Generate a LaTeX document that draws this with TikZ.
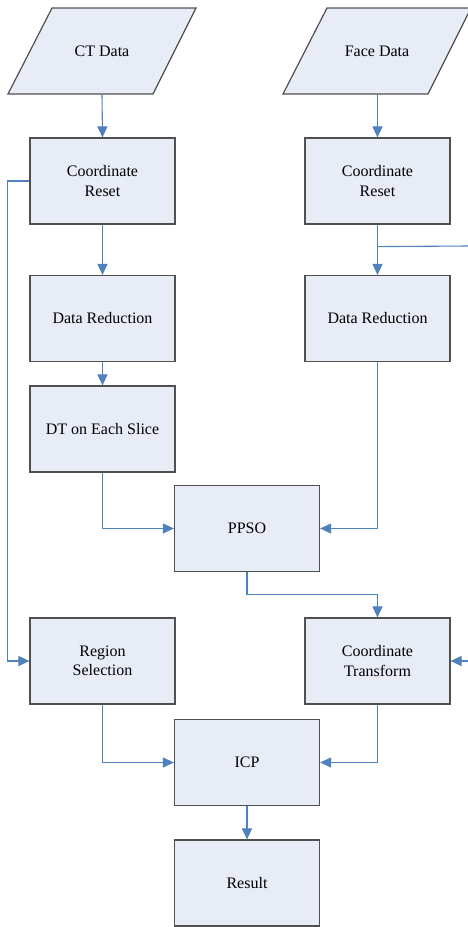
\documentclass[tikz,border=0pt]{standalone}
\usepackage{fontspec}
\setmainfont{Liberation Serif}
\usetikzlibrary{arrows.meta,calc}
\definecolor{boxfill}{RGB}{231,236,246}
\definecolor{boxline}{RGB}{80,80,80}
\definecolor{conn}{RGB}{79,129,189}
\tikzset{
  procbox/.style={draw=boxline, line width=1.2pt, fill=boxfill, minimum width=145pt, minimum height=86pt, align=center, inner sep=2pt, font=\fontsize{16}{19.5}\selectfont},
  iotext/.style={minimum width=100pt, minimum height=86pt, align=center, inner sep=0pt, font=\fontsize{16}{19.5}\selectfont},
  iobox/.style={draw=boxline, line width=1.2pt, fill=boxfill},
  flow/.style={draw=conn, line width=1.1pt, -{Triangle[length=11pt,width=10pt]}},
  plainflow/.style={draw=conn, line width=1.1pt}
}
\begin{document}
\begin{tikzpicture}[x=1pt,y=-1pt]
\useasboundingbox (0,0) rectangle (468,927);
% input parallelograms
\path[iobox] (52,8) -- (196,8) -- (153,94) -- (8,94) -- cycle;
\node[iotext] (ct) at (102,51) {CT Data};
\path[iobox] (327,8) -- (471,8) -- (428,94) -- (283,94) -- cycle;
\node[iotext] (fd) at (377,51) {Face Data};
% process boxes
\node[procbox] (cr1) at (102.5,181) {Coordinate\\Reset};
\node[procbox] (cr2) at (377.5,181) {Coordinate\\Reset};
\node[procbox] (dr1) at (102.5,318.5) {Data Reduction};
\node[procbox] (dr2) at (377.5,318.5) {Data Reduction};
\node[procbox] (dt) at (102.5,429) {DT on Each Slice};
\node[procbox] (ppso) at (247,528.5) {PPSO};
\node[procbox] (rs) at (102.5,661) {Region\\Selection};
\node[procbox] (ctr) at (377.5,661) {Coordinate\\Transform};
\node[procbox] (icp) at (247,762.5) {ICP};
\node[procbox] (res) at (247,883) {Result};
% connectors
\draw[flow] (ct.south) -- (cr1.north);
\draw[flow] (fd.south -| cr2.north) -- (cr2.north);
\draw[flow] (cr1.south) -- (dr1.north);
\draw[flow] (cr2.south) -- (dr2.north);
\draw[flow] (dr1.south) -- (dt.north);
\draw[flow] (dt.south) |- (ppso.west);
\draw[flow] (dr2.south) |- (ppso.east);
\draw[flow] (ppso.south) |- ($(ppso.south)!0.5!(ctr.north)$) -| (ctr.north);
\draw[flow] (cr1.west) -- ++(-22,0) |- (rs.west);
\draw[flow] (rs.south) |- (icp.west);
\draw[flow] (ctr.south) |- (icp.east);
\draw[flow] (icp.south) -- (res.north);
\coordinate (br) at ($(cr2.south)+(0,22)$);
\coordinate (edgeA) at (468,246);
\coordinate (edgeB) at (468,661);
\draw[plainflow] (br) -- (edgeA);
\draw[flow] (edgeB) -- (ctr.east);
\end{tikzpicture}
\end{document}
